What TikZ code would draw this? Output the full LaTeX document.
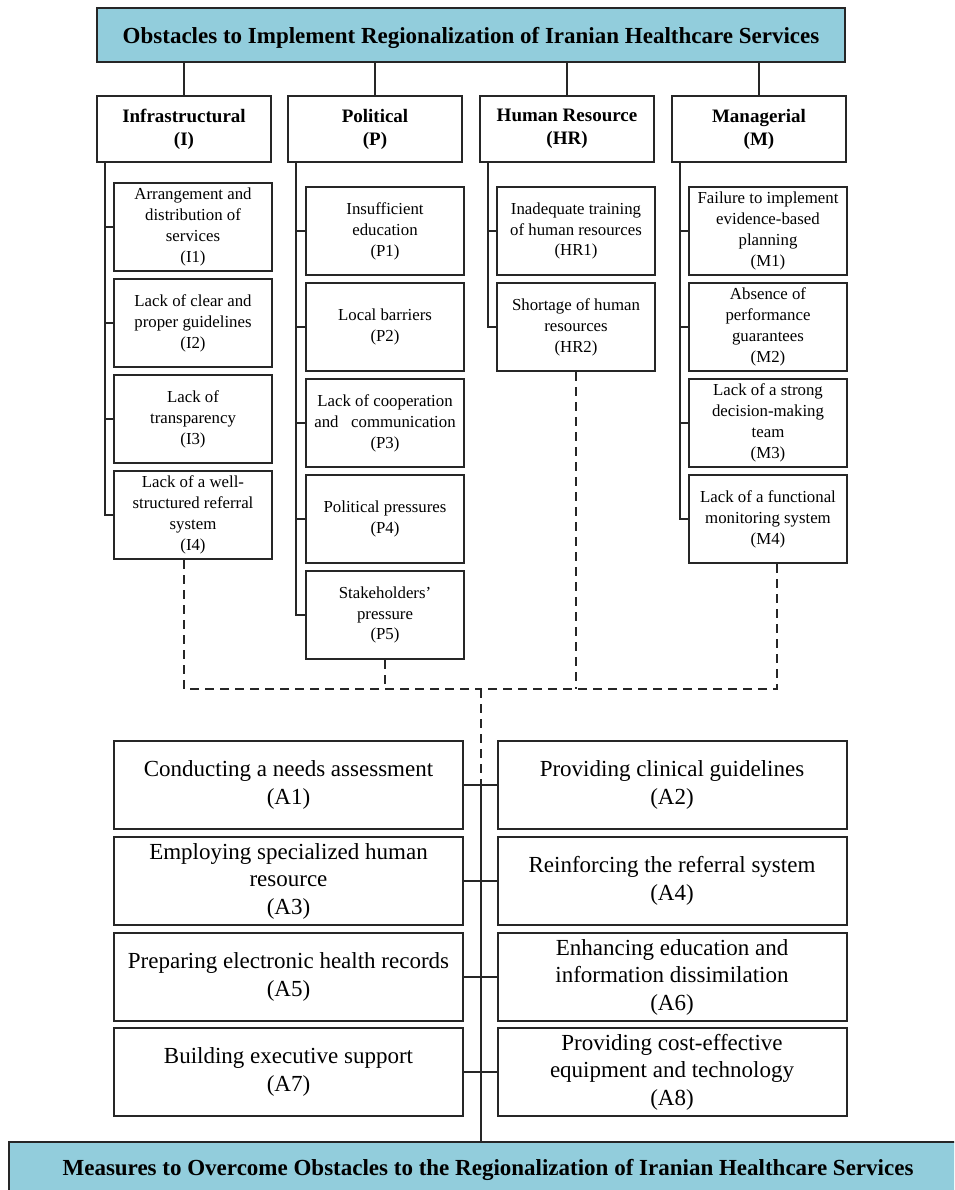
\documentclass[tikz,border=0pt]{standalone}
\usepackage{fontspec}
\setmainfont{Liberation Serif}
\definecolor{aqua}{HTML}{92CDDC}
\definecolor{ln}{HTML}{262626}
\tikzset{
  titlebox/.style={draw=ln, line width=2pt, fill=aqua, inner sep=0pt, align=center, font=\fontsize{23}{27}\selectfont\bfseries, execute at begin node=\rule{0pt}{22pt}},
  catbox/.style={draw=ln, line width=2pt, fill=white, inner sep=0pt, align=center, minimum width=174pt, minimum height=66pt, font=\fontsize{19}{23}\selectfont\bfseries},
  subbox/.style={draw=ln, line width=2pt, fill=white, inner sep=0pt, align=center, minimum width=158pt, minimum height=88pt, font=\fontsize{16.8}{20.9}\selectfont, execute at begin node=\rule{0pt}{18pt}},
  abox/.style={draw=ln, line width=2pt, fill=white, inner sep=0pt, align=center, minimum width=349pt, minimum height=88pt, font=\fontsize{23}{27.5}\selectfont, execute at begin node=\rule{0pt}{27pt}},
  conn/.style={draw=ln, line width=2pt},
  dsh/.style={draw=ln, line width=2pt, dash pattern=on 9pt off 6pt}
}
\begin{document}
\begin{tikzpicture}[x=1pt,y=-1pt]
\clip (0,0) rectangle (954,1190);
\fill[white] (0,0) rectangle (954,1190);

% top title
\node[titlebox, minimum width=748pt, minimum height=54pt] (top) at (471,35) {Obstacles to Implement Regionalization of Iranian Healthcare Services};

% categories
\node[catbox] (I) at (184,129) {Infrastructural\\(I)};
\node[catbox] (P) at (375,129) {Political\\(P)};
\node[catbox] (HR) at (567,129) {Human Resource\\(HR)};
\node[catbox] (M) at (759,129) {Managerial\\(M)};

\foreach \c in {I,P,HR,M}{\draw[conn] (top.south -| \c.north) -- (\c.north);}

% infrastructural
\node[subbox] (I1) at (193,227) {Arrangement and\\distribution of\\services\\(I1)};
\node[subbox] (I2) at (193,323) {Lack of clear and\\proper guidelines\\(I2)};
\node[subbox] (I3) at (193,419) {Lack of\\transparency\\(I3)};
\node[subbox] (I4) at (193,515) {Lack of a well-\\structured referral\\system\\(I4)};

% political
\node[subbox] (P1) at (385,231) {Insufficient\\education\\(P1)};
\node[subbox] (P2) at (385,327) {Local barriers\\(P2)};
\node[subbox] (P3) at (385,423) {Lack of cooperation\\and\hspace{0.5em} communication\\(P3)};
\node[subbox] (P4) at (385,519) {Political pressures\\(P4)};
\node[subbox] (P5) at (385,615) {Stakeholders’\\pressure\\(P5)};

% human resource
\node[subbox] (HR1) at (576,231) {Inadequate training\\of human resources\\(HR1)};
\node[subbox] (HR2) at (576,327) {Shortage of human\\resources\\(HR2)};

% managerial
\node[subbox] (M1) at (768,231) {Failure to implement\\evidence-based\\planning\\(M1)};
\node[subbox] (M2) at (768,327) {Absence of\\performance\\guarantees\\(M2)};
\node[subbox] (M3) at (768,423) {Lack of a strong\\decision-making\\team\\(M3)};
\node[subbox] (M4) at (768,519) {Lack of a functional\\monitoring system\\(M4)};

% spines
\foreach \s in {I1,I2,I3,I4}{\draw[conn] ([xshift=9pt]I.south west) |- (\s.west);}
\foreach \s in {P1,P2,P3,P4,P5}{\draw[conn] ([xshift=9pt]P.south west) |- (\s.west);}
\foreach \s in {HR1,HR2}{\draw[conn] ([xshift=9pt]HR.south west) |- (\s.west);}
\foreach \s in {M1,M2,M3,M4}{\draw[conn] ([xshift=9pt]M.south west) |- (\s.west);}

% measures
\node[abox] (A1) at (288.5,785) {Conducting a needs assessment\\(A1)};
\node[abox] (A2) at (672,785) {Providing clinical guidelines\\(A2)};
\node[abox] (A3) at (288.5,881) {Employing specialized human\\resource\\(A3)};
\node[abox] (A4) at (672,881) {Reinforcing the referral system\\(A4)};
\node[abox] (A5) at (288.5,977) {Preparing electronic health records\\(A5)};
\node[abox] (A6) at (672,977) {Enhancing education and\\information dissimilation\\(A6)};
\node[abox] (A7) at (288.5,1072) {Building executive support\\(A7)};
\node[abox] (A8) at (672,1072) {Providing cost-effective\\equipment and technology\\(A8)};

\node[titlebox, minimum width=958pt, minimum height=50pt] (bottom) at (488,1167) {Measures to Overcome Obstacles to the Regionalization of Iranian Healthcare Services};

% dashed junction
\coordinate (dj) at (481,689);
\draw[dsh] ([xshift=-9pt]I4.south) |- (dj);
\draw[dsh] (P5.south) -- (P5.south |- dj);
\draw[dsh] (HR2.south) -- (HR2.south |- dj);
\draw[dsh] ([xshift=9pt]M4.south) |- (dj);
\draw[dsh] (dj) -- (dj |- A1.east);

% solid spine and connectors
\draw[conn] (dj |- A1.east) -- (dj |- bottom.north);
\draw[conn] (A1.east) -- (A2.west);
\draw[conn] (A3.east) -- (A4.west);
\draw[conn] (A5.east) -- (A6.west);
\draw[conn] (A7.east) -- (A8.west);
\end{tikzpicture}
\end{document}
